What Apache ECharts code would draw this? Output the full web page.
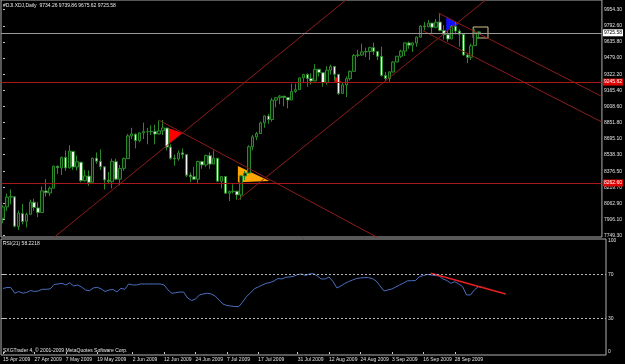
<!DOCTYPE html>
<html>
<head>
<meta charset="utf-8">
<script src="https://cdn.jsdelivr.net/npm/echarts@6/dist/echarts.min.js"></script>
<style>
  html, body { margin: 0; padding: 0; background: #000; }
  #chart { width: 625px; height: 364px; }
</style>
</head>
<body>
<div id="chart"></div>
<script>
// daily bars, 15 Apr 2009 - 7 Oct 2009
var dates = [
  '15 Apr 2009','16 Apr 2009','17 Apr 2009','20 Apr 2009','21 Apr 2009','22 Apr 2009','23 Apr 2009','24 Apr 2009','27 Apr 2009','28 Apr 2009','29 Apr 2009','30 Apr 2009',
  '1 May 2009','4 May 2009','5 May 2009','6 May 2009','7 May 2009','8 May 2009','11 May 2009','12 May 2009','13 May 2009','14 May 2009','15 May 2009','18 May 2009','19 May 2009','20 May 2009','21 May 2009','22 May 2009','26 May 2009','27 May 2009','28 May 2009','29 May 2009',
  '1 Jun 2009','2 Jun 2009','3 Jun 2009','4 Jun 2009','5 Jun 2009','8 Jun 2009','9 Jun 2009','10 Jun 2009','11 Jun 2009','12 Jun 2009','15 Jun 2009','16 Jun 2009','17 Jun 2009','18 Jun 2009','19 Jun 2009','22 Jun 2009','23 Jun 2009','24 Jun 2009','25 Jun 2009','26 Jun 2009','29 Jun 2009','30 Jun 2009',
  '1 Jul 2009','2 Jul 2009','6 Jul 2009','7 Jul 2009','8 Jul 2009','9 Jul 2009','10 Jul 2009','13 Jul 2009','14 Jul 2009','15 Jul 2009','16 Jul 2009','17 Jul 2009','20 Jul 2009','21 Jul 2009','22 Jul 2009','23 Jul 2009','24 Jul 2009','27 Jul 2009','28 Jul 2009','29 Jul 2009','30 Jul 2009','31 Jul 2009',
  '3 Aug 2009','4 Aug 2009','5 Aug 2009','6 Aug 2009','7 Aug 2009','10 Aug 2009','11 Aug 2009','12 Aug 2009','13 Aug 2009','14 Aug 2009','17 Aug 2009','18 Aug 2009','19 Aug 2009','20 Aug 2009','21 Aug 2009','24 Aug 2009','25 Aug 2009','26 Aug 2009','27 Aug 2009','28 Aug 2009','31 Aug 2009',
  '1 Sep 2009','2 Sep 2009','3 Sep 2009','4 Sep 2009','8 Sep 2009','9 Sep 2009','10 Sep 2009','11 Sep 2009','14 Sep 2009','15 Sep 2009','16 Sep 2009','17 Sep 2009','18 Sep 2009','21 Sep 2009','22 Sep 2009','23 Sep 2009','24 Sep 2009','25 Sep 2009','28 Sep 2009','29 Sep 2009','30 Sep 2009',
  '1 Oct 2009','2 Oct 2009','5 Oct 2009','6 Oct 2009','7 Oct 2009'
];

// [open, high, low, close]
var ohlc = [
  [7918,8045,7870,8029.62],[8030,8160,7990,8125.43],[8125,8200,8055,8131.33],[8128,8131,7830,7841.73],
  [7840,7995,7805,7969.56],[7965,8060,7860,7886.57],[7890,7975,7830,7957.06],[7957,8100,7955,8076.29],
  [8075,8110,7990,8025.00],[8020,8075,7930,7975.85],[7975,8230,7975,8185.73],[8185,8300,8130,8168.12],
  [8165,8230,8135,8212.41],[8212,8430,8210,8426.74],[8425,8435,8350,8410.65],[8410,8520,8340,8512.28],
  [8512,8580,8380,8409.85],[8410,8630,8405,8574.65],[8570,8575,8390,8418.77],[8418,8530,8385,8469.11],
  [8465,8470,8270,8284.89],[8285,8390,8275,8331.32],[8330,8385,8235,8268.64],[8270,8510,8265,8504.08],
  [8505,8560,8450,8474.85],[8475,8590,8390,8422.04],[8420,8420,8200,8292.13],[8290,8370,8255,8277.32],
  [8275,8500,8210,8473.49],[8470,8500,8290,8300.02],[8300,8440,8240,8403.80],[8405,8510,8380,8500.33],
  [8500,8740,8500,8721.44],[8720,8800,8690,8740.87],[8738,8745,8600,8675.24],[8675,8760,8660,8750.24],
  [8750,8850,8690,8763.13],[8762,8800,8640,8764.49],[8764,8825,8730,8763.06],[8763,8830,8640,8739.02],
  [8740,8870,8735,8770.92],[8770,8877,8730,8799.26],[8798,8800,8580,8612.13],[8612,8640,8490,8504.67],
  [8504,8540,8430,8497.18],[8497,8580,8480,8555.60],[8556,8600,8500,8539.73],[8539,8540,8320,8339.01],
  [8340,8365,8270,8322.91],[8323,8420,8290,8299.86],[8299,8480,8260,8472.40],[8472,8480,8400,8438.39],
  [8438,8540,8420,8529.38],[8529,8560,8400,8447.00],[8447,8580,8445,8504.06],[8504,8505,8275,8280.74],
  [8280,8330,8210,8324.87],[8325,8325,8160,8163.60],[8163,8190,8087,8178.41],[8178,8250,8160,8183.17],
  [8183,8185,8100,8146.52],[8146,8340,8100,8331.68],[8331,8380,8290,8359.49],[8360,8630,8360,8616.21],
  [8615,8730,8580,8711.82],[8711,8760,8680,8743.94],[8744,8860,8740,8848.15],[8848,8920,8800,8915.94],
  [8915,8935,8840,8881.26],[8881,9090,8860,9069.29],[9069,9100,9000,9093.24],[9093,9120,9030,9108.51],
  [9108,9110,9010,9096.72],[9096,9100,8990,9070.72],[9071,9230,9071,9154.46],[9154,9230,9140,9171.61],
  [9172,9290,9171,9286.56],[9286,9325,9240,9320.19],[9320,9330,9200,9280.97],[9281,9330,9220,9256.26],
  [9256,9420,9256,9370.07],[9370,9375,9300,9337.95],[9337,9340,9200,9241.45],[9241,9400,9220,9361.61],
  [9361,9415,9320,9398.19],[9398,9400,9260,9321.40],[9321,9321,9120,9135.34],[9135,9240,9130,9217.94],
  [9217,9300,9100,9279.16],[9279,9360,9260,9350.05],[9350,9520,9350,9505.96],[9506,9560,9490,9509.28],
  [9509,9620,9500,9539.29],[9539,9580,9490,9543.52],[9543,9590,9460,9580.63],[9581,9630,9510,9544.20],
  [9544,9545,9460,9496.28],[9496,9590,9300,9310.60],[9310,9345,9255,9280.67],[9280,9350,9250,9344.61],
  [9344,9450,9340,9441.27],[9441,9500,9440,9497.34],[9497,9560,9480,9547.22],[9547,9630,9500,9627.48],
  [9627,9640,9570,9605.41],[9605,9630,9540,9626.80],[9626,9690,9590,9683.41],[9683,9800,9680,9791.71],
  [9791,9830,9750,9783.92],[9784,9850,9780,9820.20],[9820,9820,9720,9778.86],[9779,9860,9770,9829.87],
  [9830,9918,9740,9748.55],[9748,9800,9660,9707.44],[9707,9750,9640,9665.19],[9665,9800,9665,9789.36],
  [9789,9830,9710,9742.20],[9742,9760,9590,9712.28],[9712,9712,9500,9509.28],[9509,9530,9430,9487.67],
  [9487,9620,9460,9599.75],[9600,9760,9600,9731.25],[9734.26,9739.86,9675.62,9725.58]
];

// RSI(21)
var rsi = [
  57.2,58.1,58.0,53.0,54.5,53.0,53.6,55.4,54.5,55.0,56.5,56.5,56.8,60.8,61.3,61.9,60.4,62.4,59.5,60.4,
  58.6,55.9,55.2,57.7,58.3,56.8,54.5,55.9,56.3,54.1,57.4,56.5,61.3,60.4,60.4,61.3,61.3,61.3,61.3,61.3,
  61.3,60.4,55.9,52.9,53.4,54.0,54.0,48.6,46.4,47.7,51.4,52.3,52.9,52.3,50.5,46.8,43.2,41.9,41.4,41.0,
  40.8,45.0,50.0,53.2,57.0,58.6,60.4,61.9,62.6,64.0,66.2,65.8,67.3,67.6,68.2,69.8,70.3,68.9,70.3,70.7,
  68.5,65.8,65.8,67.6,63.5,57.7,59.5,61.7,63.5,64.9,66.2,66.7,67.0,67.0,66.2,64.0,59.5,55.0,55.9,56.8,
  58.6,60.4,62.2,64.2,64.2,64.4,67.8,68.9,69.9,69.4,68.9,68.5,65.8,64.4,61.9,63.3,61.3,58.9,51.4,51.4,
  55.9,58.9,58.2
];

var priceTicks = [7749.30, 7906.10, 8062.90, 8219.70, 8376.50, 8538.30, 8695.10, 8851.80, 9008.60,
  9165.40, 9322.20, 9479.00, 9635.80, 9792.60, 9954.30];
var rsiTicks = [0, 30, 70, 100];
var dateTicks = ['15 Apr 2009','27 Apr 2009','7 May 2009','19 May 2009','2 Jun 2009','12 Jun 2009',
  '24 Jun 2009','7 Jul 2009','17 Jul 2009','31 Jul 2009','12 Aug 2009','24 Aug 2009','3 Sep 2009',
  '16 Sep 2009','28 Sep 2009'];

var levels = [9245.82, 8262.60];
var lastPrice = 9725.58;

// chart objects in [bar index, price]
var channelLow = [[13.2, 7736.6], [87.9, 10045]];
var channelUp = [[60.2, 8097], [123.7, 10045]];
var downJun = [[39.9, 8876], [95.8, 7736]];
var downSepA = [[111.6, 9918], [153.5, 9105]];
var downSepB = [[107.6, 9746], [153.5, 8856]];
var rsiTrend = [[108.9, 70.9], [128, 52.3]];
var triJun = [[42.4, 8798], [42.4, 8642], [46.0, 8750]];
var triJul = [[60.2, 8428], [60.2, 8270], [68.3, 8282]];
var triAug = [[85.0, 9305], [85.0, 9239], [86.7, 9249]];
var triSep = [[113.6, 9879], [113.6, 9743], [116.9, 9811]];
var lastBox = [[120.5, 9782], [124.3, 9675]];

var FONT = 'Liberation Sans'
var slots = dates.concat(new Array(31).fill(''))

function trend(points, color, width, xi, yi) {
  return {
    type: 'line', xAxisIndex: xi, yAxisIndex: yi, data: points,
    symbol: 'none', silent: true, clip: true,
    lineStyle: { color: color, width: width }
  }
}

function triangle(points, color) {
  return {
    type: 'custom', xAxisIndex: 1, yAxisIndex: 0, silent: true, clip: true,
    data: [points[0].concat(points[1], points[2])],
    encode: { x: [0, 2, 4], y: [1, 3, 5] },
    renderItem: function (params, api) {
      var pts = [0, 1, 2].map(function (k) {
        return api.coord([api.value(2 * k), api.value(2 * k + 1)])
      })
      return { type: 'polygon', shape: { points: pts }, style: { fill: color } }
    }
  }
}

var chart = echarts.init(document.getElementById('chart'))

chart.setOption({
  backgroundColor: '#000',
  animation: false,
  textStyle: { fontFamily: FONT },
  grid: [
    { left: 1, top: 0, width: 605, height: 237, show: true, borderColor: '#b0b0b0', borderWidth: 1 },
    { left: 1, top: 239, width: 605, height: 116, show: true, borderColor: '#b0b0b0', borderWidth: 1 }
  ],
  xAxis: [
    { type: 'category', gridIndex: 0, data: slots, boundaryGap: true,
      axisLine: { show: false }, axisTick: { show: false }, axisLabel: { show: false }, splitLine: { show: false } },
    { type: 'value', gridIndex: 0, min: -0.5, max: 153.5, show: false },
    { type: 'category', gridIndex: 1, data: slots, boundaryGap: true,
      axisLine: { show: false },
      axisTick: { show: true, length: 2, alignWithLabel: true, lineStyle: { color: '#c8c8c8' },
        interval: function (i, v) { return dateTicks.indexOf(v) >= 0 } },
      axisLabel: { color: '#e0e0e0', fontSize: 5, fontFamily: FONT, align: 'left', margin: 2,
        interval: function (i, v) { return dateTicks.indexOf(v) >= 0 } },
      splitLine: { show: false } },
    { type: 'value', gridIndex: 1, min: -0.5, max: 153.5, show: false }
  ],
  yAxis: [
    { type: 'value', gridIndex: 0, position: 'right', min: 7736.6, max: 10045, scale: true,
      axisLine: { show: false },
      axisTick: { show: true, length: 2, lineStyle: { color: '#c8c8c8' }, customValues: priceTicks },
      axisLabel: { color: '#e0e0e0', fontSize: 5, fontFamily: FONT, margin: 2, customValues: priceTicks,
        formatter: function (v) { return v.toFixed(2) } },
      splitLine: { show: false } },
    { type: 'value', gridIndex: 1, position: 'right', min: -2.7, max: 101.8,
      axisLine: { show: false },
      axisTick: { show: true, length: 2, lineStyle: { color: '#c8c8c8' }, customValues: rsiTicks },
      axisLabel: { color: '#e0e0e0', fontSize: 5, fontFamily: FONT, margin: 2, customValues: rsiTicks },
      splitLine: { show: false } }
  ],
  graphic: [
    { type: 'text', left: 3, top: 3, silent: true,
      style: { text: '#DJI.XDJ,Daily  9734.26 9739.86 9675.62 9725.58', fill: '#e8e8e8', font: '5px ' + FONT } },
    { type: 'text', left: 3, top: 241, silent: true,
      style: { text: 'RSI(21) 58.2218', fill: '#e8e8e8', font: '5px ' + FONT } },
    { type: 'text', left: 3, top: 348, silent: true,
      style: { text: 'SXGTrader 4, © 2001-2009 MetaQuotes Software Corp.', fill: '#e8e8e8', font: '5px ' + FONT } }
  ],
  series: [
    {
      type: 'candlestick', xAxisIndex: 0, yAxisIndex: 0, barWidth: 3, silent: true,
      data: ohlc.map(function (d) { return [d[0], d[3], d[2], d[1]] }),
      itemStyle: { color: '#0a200a', color0: '#f4f4f4', borderColor: '#2a8a2a', borderColor0: '#2a8a2a', borderWidth: 1 },
      markLine: {
        silent: true, symbol: ['none', 'none'], animation: false,
        data: levels.map(function (v) {
          return { yAxis: v, lineStyle: { color: '#a81818', type: 'solid', width: 1 },
            label: { position: 'end', distance: 1, color: '#fff', backgroundColor: '#e00000', fontSize: 5,
              fontFamily: FONT, padding: [1, 1], formatter: function (p) { return p.value.toFixed(2) } } }
        }).concat([{ yAxis: lastPrice, lineStyle: { color: '#9a9a9a', type: 'solid', width: 1 },
          label: { position: 'end', distance: 1, color: '#000', backgroundColor: '#fff', fontSize: 5,
            fontFamily: FONT, padding: [1, 1], formatter: function (p) { return p.value.toFixed(2) } } }])
      }
    },
    trend(channelLow, '#8e1c1c', 1, 1, 0),
    trend(channelUp, '#8e1c1c', 1, 1, 0),
    trend(downJun, '#8e1c1c', 1, 1, 0),
    trend(downSepA, '#8e1c1c', 1, 1, 0),
    trend(downSepB, '#8e1c1c', 1, 1, 0),
    triangle(triJun, '#ff0000'),
    triangle(triJul, '#ffa500'),
    triangle(triAug, '#ff0000'),
    triangle(triSep, '#1010ff'),
    {
      type: 'custom', xAxisIndex: 1, yAxisIndex: 0, silent: true,
      data: [lastBox[0].concat(lastBox[1])],
      encode: { x: [0, 2], y: [1, 3] },
      renderItem: function (params, api) {
        var a = api.coord([api.value(0), api.value(1)])
        var b = api.coord([api.value(2), api.value(3)])
        return { type: 'rect', shape: { x: a[0], y: a[1], width: b[0] - a[0], height: b[1] - a[1] },
          style: { fill: 'none', stroke: '#d6c48a', lineWidth: 1 } }
      }
    },
    {
      type: 'line', xAxisIndex: 2, yAxisIndex: 1, data: rsi, symbol: 'none', silent: true,
      lineStyle: { color: '#4a6ec0', width: 1 },
      markLine: {
        silent: true, symbol: ['none', 'none'], label: { show: false },
        lineStyle: { color: '#bcbcbc', type: [2, 2], width: 1 },
        data: [{ yAxis: 70 }, { yAxis: 30 }]
      }
    },
    trend(rsiTrend, '#e82020', 1.5, 3, 1)
  ]
})
</script>
</body>
</html>
